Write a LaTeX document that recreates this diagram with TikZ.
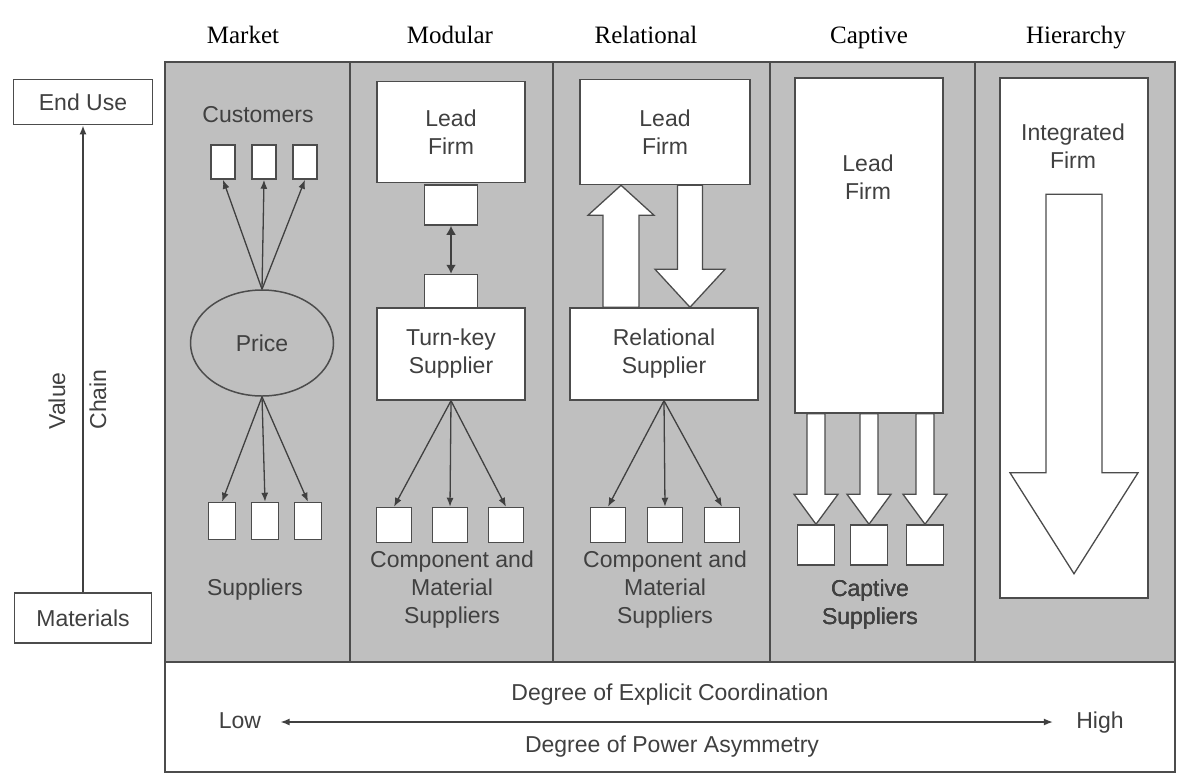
\documentclass[tikz,border=0pt]{standalone}
\usepackage{fontspec}
\setmainfont{Liberation Serif}
\setsansfont{Liberation Sans}
\usetikzlibrary{calc,arrows.meta,shapes.geometric}

\tikzset{
  col/.style={draw=black!70, line width=1.2pt, fill=gray!50},
  box/.style={draw=black!70, line width=1.5pt, fill=white, inner sep=0pt},
  lbl/.style={text=black!75, font=\sffamily\fontsize{23}{28}\selectfont, align=center},
  head/.style={font=\rmfamily\fontsize{25}{29}\selectfont, anchor=base},
  link/.style={draw=black!75, line width=1.3pt, -{Latex[length=9pt,width=7pt]}},
  blockarrow/.style={draw=black!70, line width=1.3pt, fill=white},
}

% vertical block arrow: from, to, shaft half width, head half width, head length
\newcommand{\gvcarrow}[5]{%
  \draw[blockarrow] let \p1=(#1), \p2=(#2), \n1={sign(\y2-\y1)} in
    (\x1-#3,\y1) -- (\x1-#3,\y2-\n1*#5) -- (\x1-#4,\y2-\n1*#5) -- (\x1,\y2)
    -- (\x1+#4,\y2-\n1*#5) -- (\x1+#3,\y2-\n1*#5) -- (\x1+#3,\y1) -- cycle;}

\begin{document}
\begin{tikzpicture}[x=1pt,y=-1pt]
\useasboundingbox (0,0) rectangle (1182,780);

% panels
\foreach \a/\b in {165/350, 350/553, 553/770, 770/975, 975/1175}
  \draw[col] (\a,62) rectangle (\b,662);
\draw[col, fill=white] (165,662) rectangle (1175,772);

% headers
\foreach \x/\t in {243/Market, 450/Modular, 646/Relational, 869/Captive, 1076/Hierarchy}
  \node[head] (h-\t) at (\x,43) {\t};

% value chain
\node[box, lbl, minimum width=139, minimum height=45] (enduse) at (83,102) {End Use};
\node[box, lbl, minimum width=137, minimum height=50] (mat) at (83,618) {Materials};
\draw[link, line width=1.8pt] (mat.north) -- (enduse.south);
\node[lbl, rotate=90, anchor=west] (vval) at (57,433) {Value};
\node[lbl, rotate=90, anchor=west] (vchain) at (98,433) {Chain};

% market
\node[lbl] (cust) at (258,115) {Customers};
\node[box, minimum width=24, minimum height=34] (c1) at (223,162) {};
\node[box, minimum width=24, minimum height=34] (c2) at (264,162) {};
\node[box, minimum width=24, minimum height=34] (c3) at (305,162) {};
\node[lbl, ellipse, draw=black!70, line width=1.5pt, minimum width=143, minimum height=106] (price) at (262,343) {Price};
\foreach \i in {1,2,3} \draw[link] (price.north) -- (c\i.south);
\node[box, minimum width=27, minimum height=37] (s1) at (222,521) {};
\node[box, minimum width=27, minimum height=37] (s2) at (265,521) {};
\node[box, minimum width=27, minimum height=37] (s3) at (308,521) {};
\foreach \i in {1,2,3} \draw[link] (price.south) -- (s\i.north);
\node[lbl] (sup) at (255,590) {Suppliers};

% modular
\node[box, lbl, minimum width=148, minimum height=101] (mlead) at (451,132) {Lead\\Firm};
\node[box, minimum width=53, minimum height=40] (mtop) at (451,205) {};
\node[box, minimum width=53, minimum height=33] (mbot) at (451,291) {};
\draw[link, line width=2.5pt, {Latex[length=9pt,width=10pt]}-{Latex[length=9pt,width=10pt]}] (mtop.south) -- (mbot.north);
\node[box, lbl, minimum width=148, minimum height=92] (turnkey) at (451,354) {Turn-key\\Supplier};
\node[box, minimum width=35, minimum height=35] (m1) at (394,525) {};
\node[box, minimum width=35, minimum height=35] (m2) at (450,525) {};
\node[box, minimum width=35, minimum height=35] (m3) at (506,525) {};
\foreach \i in {1,2,3} \draw[link] (turnkey.south) -- (m\i.north);
\node[lbl] (mcomp) at (452,590) {Component and\\Material\\Suppliers};

% relational
\node[box, lbl, minimum width=170, minimum height=105] (rlead) at (665,132) {Lead\\Firm};
\node[box, lbl, minimum width=188, minimum height=92] (rsup) at (664,354) {Relational\\Supplier};
\gvcarrow{[xshift=-43pt]rsup.north}{rlead.south}{18}{33}{30}
\gvcarrow{[xshift=25pt]rlead.south}{rsup.north}{12.5}{35}{38}
\node[box, minimum width=35, minimum height=35] (r1) at (608,525) {};
\node[box, minimum width=35, minimum height=35] (r2) at (665,525) {};
\node[box, minimum width=35, minimum height=35] (r3) at (722,525) {};
\foreach \i in {1,2,3} \draw[link] (rsup.south) -- (r\i.north);
\node[lbl] (rcomp) at (665,590) {Component and\\Material\\Suppliers};

% captive
\node[box, minimum width=148, minimum height=335] (cfirm) at (869,245.5) {};
\node[lbl] (cfirmtxt) at (868,177) {Lead\\Firm};
\node[box, minimum width=37, minimum height=40] (k1) at (816,545) {};
\node[box, minimum width=37, minimum height=40] (k2) at (869,545) {};
\node[box, minimum width=37, minimum height=40] (k3) at (925,545) {};
\foreach \i in {1,2,3} \gvcarrow{k\i.north |- cfirm.south}{k\i.north}{9}{22}{30}
\node[lbl] (ksup) at (870,605) {Captive\\Suppliers};

% hierarchy
\node[box, minimum width=148, minimum height=520] (hfirm) at (1074,338) {};
\node[lbl] (htxt) at (1073,146) {Integrated\\Firm};
\gvcarrow{[yshift=-117pt]hfirm.north}{[yshift=25pt]hfirm.south}{28}{64}{101}

% coordination scale
\node[lbl] (coord) at (670,695) {Degree of Explicit Coordination};
\node[lbl] (power) at (672,747) {Degree of Power Asymmetry};
\node[lbl, text height=17pt, text depth=5pt] (low) at (240,722) {Low};
\node[lbl, text height=17pt, text depth=5pt] (high) at (1100,722) {High};
\draw[link, {Latex[length=9pt,width=7pt]}-{Latex[length=9pt,width=7pt]}, shorten <=16pt, shorten >=20pt] (low.east) -- (high.west);
\end{tikzpicture}
\end{document}
